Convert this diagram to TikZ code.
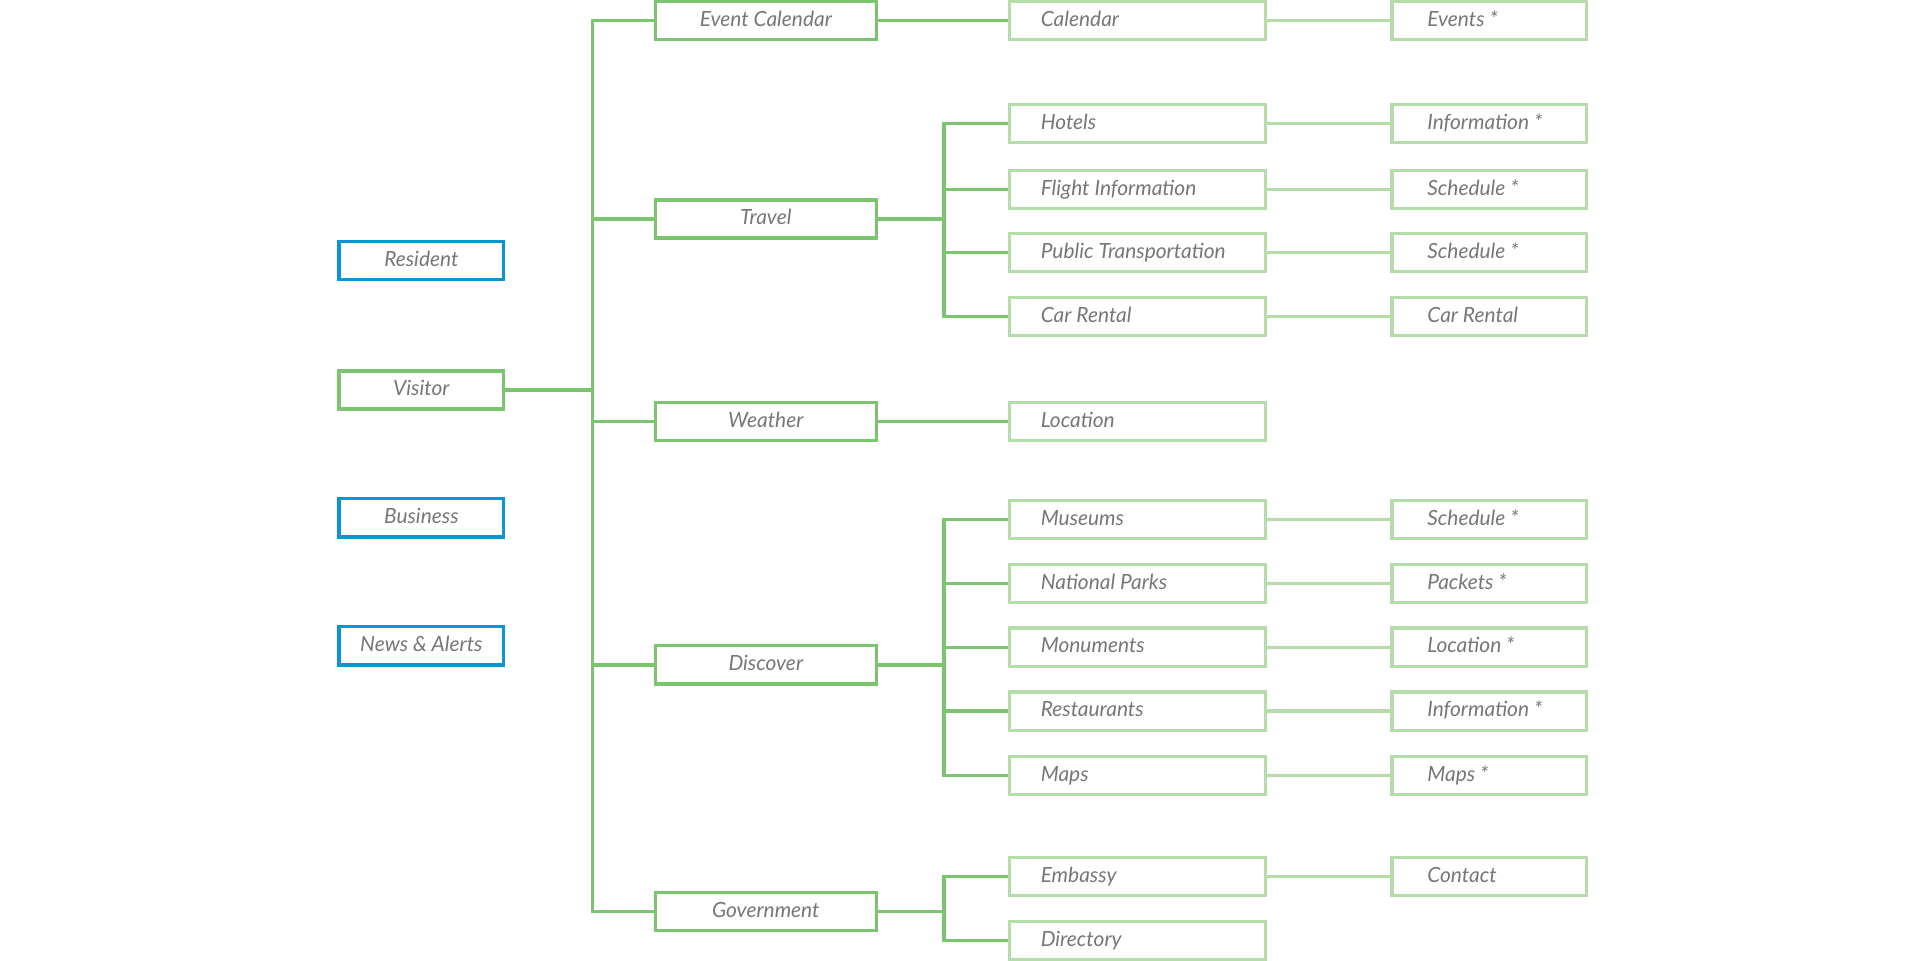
\documentclass[tikz,border=0pt]{standalone}
\usepackage{fontspec}
\setmainfont{Lato}
\definecolor{txtgray}{HTML}{777777}
\definecolor{roleblue}{HTML}{0A96D4}
\definecolor{secgreen}{HTML}{7CC56F}
\definecolor{subgreen}{HTML}{B4DDA9}
\tikzset{
	box/.style={draw,line width=2.6pt,fill=white,minimum height=31pt,inner ysep=0pt,text height=12pt,text depth=2.5pt,font=\itshape\fontsize{17}{20}\selectfont,text=txtgray},
	role/.style={box,draw=roleblue,minimum width=134pt,inner xsep=0pt},
	visrole/.style={role,draw=secgreen},
	sec/.style={box,draw=secgreen,minimum width=180pt,inner xsep=0pt},
	sub/.style={box,draw=subgreen,inner xsep=25.5pt,text width=157pt,align=flush left},
	leaf/.style={box,draw=subgreen,inner xsep=28.7pt,text width=100.6pt,align=flush left},
	link/.style={draw=secgreen,line width=2.6pt},
	leaflink/.style={draw=subgreen,line width=2.6pt}
}
\begin{document}
\begin{tikzpicture}[x=1pt,y=-1pt]
	\useasboundingbox (0,0) rectangle (1568,781);
	% roles
	\node[role] (res) at (342.5,211.5) {Resident};
	\node[visrole] (vis) at (342.5,317) {Visitor};
	\node[role] (bus) at (342.5,421) {Business};
	\node[role] (news) at (342.5,525) {News \& Alerts};
	% sections
	\node[sec] (evcal) at (622.5,16.5) {Event Calendar};
	\node[sec] (travel) at (622.5,178) {Travel};
	\node[sec] (weather) at (622.5,342.5) {Weather};
	\node[sec] (discover) at (622.5,540.5) {Discover};
	\node[sec] (gov) at (622.5,741) {Government};
	% pages
	\node[sub] (calendar) at (924.5,16.5) {Calendar};
	\node[sub] (hotels) at (924.5,100.5) {Hotels};
	\node[sub] (flight) at (924.5,154) {Flight Information};
	\node[sub] (public) at (924.5,205.5) {Public Transportation};
	\node[sub] (carrent) at (924.5,257.5) {Car Rental};
	\node[sub] (location) at (924.5,342.5) {Location};
	\node[sub] (museums) at (924.5,422.5) {Museums};
	\node[sub] (parks) at (924.5,474.5) {National Parks};
	\node[sub] (monuments) at (924.5,526) {Monuments};
	\node[sub] (restaurants) at (924.5,578) {Restaurants};
	\node[sub] (maps) at (924.5,630.5) {Maps};
	\node[sub] (embassy) at (924.5,712.5) {Embassy};
	\node[sub] (directory) at (924.5,764.5) {Directory};
	% details
	\node[leaf] (events) at (1210.5,16.5) {Events *};
	\node[leaf] (hotelinfo) at (1210.5,100.5) {Information *};
	\node[leaf] (flightsched) at (1210.5,154) {Schedule *};
	\node[leaf] (publicsched) at (1210.5,205.5) {Schedule *};
	\node[leaf] (carrentleaf) at (1210.5,257.5) {Car Rental};
	\node[leaf] (museumsched) at (1210.5,422.5) {Schedule *};
	\node[leaf] (packets) at (1210.5,474.5) {Packets *};
	\node[leaf] (monloc) at (1210.5,526) {Location *};
	\node[leaf] (restinfo) at (1210.5,578) {Information *};
	\node[leaf] (mapsleaf) at (1210.5,630.5) {Maps *};
	\node[leaf] (contact) at (1210.5,712.5) {Contact};
	% trunk
	\coordinate (trunk) at ([xshift=70.5pt]vis.east);
	\draw[link] (vis.east) -- (trunk);
	\foreach \s in {evcal,travel,weather,discover,gov}
		\draw[link] (trunk) |- (\s.west);
	% branches
	\draw[link] (evcal.east) -- (calendar.west);
	\draw[link] (weather.east) -- (location.west);
	\coordinate (trbus) at ([xshift=53.5pt]travel.east);
	\draw[link] (travel.east) -- (trbus);
	\foreach \p in {hotels,flight,public,carrent}
		\draw[link] (trbus) |- (\p.west);
	\coordinate (dibus) at ([xshift=53.5pt]discover.east);
	\draw[link] (discover.east) -- (dibus);
	\foreach \p in {museums,parks,monuments,restaurants,maps}
		\draw[link] (dibus) |- (\p.west);
	\coordinate (gobus) at ([xshift=53.5pt]gov.east);
	\draw[link] (gov.east) -- (gobus);
	\foreach \p in {embassy,directory}
		\draw[link] (gobus) |- (\p.west);
	% details
	\foreach \a/\b in {calendar/events,hotels/hotelinfo,flight/flightsched,public/publicsched,carrent/carrentleaf,museums/museumsched,parks/packets,monuments/monloc,restaurants/restinfo,maps/mapsleaf,embassy/contact}
		\draw[leaflink] (\a.east) -- (\b.west);
\end{tikzpicture}
\end{document}
